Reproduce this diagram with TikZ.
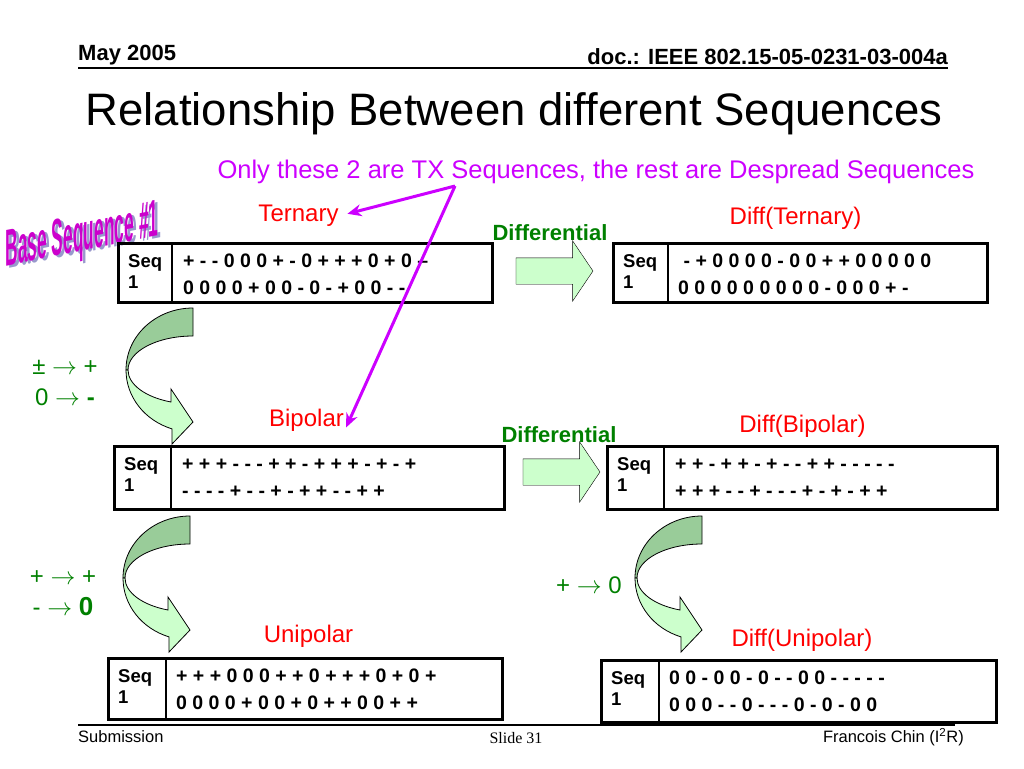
\documentclass[tikz,border=0pt]{standalone}
\usepackage{fontspec}
\setmainfont{Liberation Sans}
\newfontfamily\slidefont{Liberation Serif}
\usetikzlibrary{positioning,arrows.meta,shapes.arrows}

\definecolor{notepurple}{RGB}{204,0,255}
\definecolor{seqred}{RGB}{255,0,0}
\definecolor{mapgreen}{RGB}{0,128,0}
\definecolor{arrowlight}{RGB}{204,255,204}
\definecolor{arrowdark}{RGB}{153,204,153}
\definecolor{wordpink}{RGB}{204,0,204}
\definecolor{wordshadow}{RGB}{153,153,204}

\tikzset{
  headtext/.style={font=\bfseries\fontsize{22}{26}\selectfont, inner sep=0pt},
  seqbox/.style={draw, line width=3pt, inner sep=0pt, anchor=north west},
  cellline/.style={line width=1.2pt},
  seqhead/.style={font=\bfseries\fontsize{18.5}{21}\selectfont, align=left, anchor=base west, inner sep=0pt},
  seqbits/.style={font=\bfseries\fontsize{19.5}{26.5}\selectfont, align=left, anchor=base west, inner sep=0pt},
  seqname/.style={text=seqred, font=\fontsize{24}{28}\selectfont, inner sep=0pt},
  difftext/.style={text=mapgreen, font=\bfseries\fontsize{22}{26}\selectfont, inner sep=0pt},
  maptext/.style={text=mapgreen, font=\fontsize{24}{31}\selectfont, align=center, inner sep=0pt},
  diffarrow/.style={single arrow, draw, fill=arrowlight, inner sep=0pt, text height=13pt, text depth=13pt,
    minimum height=77pt, single arrow head extend=17pt, single arrow tip angle=112},
  curveback/.style={draw, line width=0.8pt, fill=arrowdark},
  curvefront/.style={draw, line width=0.8pt, fill=arrowlight},
  notearrow/.style={draw=notepurple, line width=3pt, -{Stealth[length=14pt,width=12pt]}},
  basetag/.style={font=\bfseries\fontsize{52}{56}\selectfont, inner sep=0pt, yslant=0.2, xscale=0.335, transform shape}
}

\begin{document}
\begin{tikzpicture}[x=1pt, y=-1pt]
\useasboundingbox (0,0) rectangle (1024,768);

% slide header and footer
\node[headtext, anchor=west] (date) at (78,55) {May 2005};
\node[headtext, anchor=east] (docid) at (948,57) {doc.: IEEE 802.15-05-0231-03-004a};
\draw[line width=2pt] (78,68) -- (948,68);
\node[font=\fontsize{45.5}{54}\selectfont, inner sep=0pt] (title) at (514,114) {Relationship Between different Sequences};
\draw[line width=1.2pt] (78,725) -- (955,725);
\node[font=\fontsize{16.5}{20}\selectfont, inner sep=0pt, anchor=west] (submission) at (78,737) {Submission};
\node[font=\slidefont\fontsize{16}{20}\selectfont, inner sep=0pt] (slideno) at (516,738) {Slide 31};
\node[font=\fontsize{16.5}{20}\selectfont, inner sep=0pt, anchor=east] (author) at (964,737) {Francois Chin (I\textsuperscript{2}R)};

\node[text=notepurple, font=\fontsize{25.5}{30}\selectfont, inner sep=0pt] (note) at (596,172) {Only these 2 are TX Sequences, the rest are Despread Sequences};

% word art
\node[basetag, text=wordshadow] at (85,240) {Base Sequence \#1};
\node[basetag, text=wordpink] (basetag) at (82,238) {Base Sequence \#1};

% curved arrows
\foreach \cx/\cy in {193/370, 190/578, 702/578} {
  \begin{scope}[shift={(\cx,\cy)}, yscale=-1]
    \draw[curveback] (0,62) arc[start angle=90, end angle=180, x radius=67, y radius=62]
      -- (-65,0) arc[start angle=180, end angle=90, x radius=65, y radius=34] -- cycle;
    \draw[curvefront] (-67,0) arc[start angle=180, end angle=251.7, x radius=67, y radius=62]
      -- (-21,-74) -- (0,-52) -- (-22,-19) -- (-22,-32)
      arc[start angle=250.2, end angle=180, x radius=65, y radius=34] -- cycle;
  \end{scope}
}
\node[maptext] (mapbip) at (65,383) {± $\rightarrow$ +\\0 $\rightarrow$ \textbf{-}};
\node[maptext] (mapuni) at (63,593) {+ $\rightarrow$ +\\- $\rightarrow$ \textbf{\fontsize{26}{31}\selectfont 0}};
\node[maptext] (mapdiff) at (589,585) {+ $\rightarrow$ 0};

% sequence tables
\node[seqbox, minimum width=374pt, minimum height=59pt] (tern) at (117,242) {};
\draw[cellline] ([xshift=55pt]tern.north west) -- ([xshift=55pt]tern.south west);
\node[seqhead] at ([xshift=11pt,yshift=-46.5pt]tern.north west) {Seq\\1};
\node[seqbits] at ([xshift=66pt,yshift=-52pt]tern.north west) {+ - - 0 0 0 + - 0 + + + 0 + 0 –\\0 0 0 0 + 0 0 - 0 - + 0 0 - -};

\node[seqbox, minimum width=374pt, minimum height=59pt] (dtern) at (612,242) {};
\draw[cellline] ([xshift=56pt]dtern.north west) -- ([xshift=56pt]dtern.south west);
\node[seqhead] at ([xshift=11pt,yshift=-46.5pt]dtern.north west) {Seq\\1};
\node[seqbits] at ([xshift=66pt,yshift=-52pt]dtern.north west) {~- + 0 0 0 0 - 0 0 + + 0 0 0 0 0\\0 0 0 0 0 0 0 0 0 - 0 0 0 + -};

\node[seqbox, minimum width=390pt, minimum height=63pt] (bip) at (113,445) {};
\draw[cellline] ([xshift=58pt]bip.north west) -- ([xshift=58pt]bip.south west);
\node[seqhead] at ([xshift=11pt,yshift=-46.5pt]bip.north west) {Seq\\1};
\node[seqbits] at ([xshift=69pt,yshift=-52pt]bip.north west) {+ + + - - - + + - + + + - + - +\\- - - - + - - + - + + - - + +};

\node[seqbox, minimum width=390pt, minimum height=63pt] (dbip) at (606,445) {};
\draw[cellline] ([xshift=58pt]dbip.north west) -- ([xshift=58pt]dbip.south west);
\node[seqhead] at ([xshift=11pt,yshift=-46.5pt]dbip.north west) {Seq\\1};
\node[seqbits] at ([xshift=69pt,yshift=-52pt]dbip.north west) {+ + - + + - + - - + + - - - - -\\+ + + - - + - - - + - + - + +};

\node[seqbox, minimum width=394pt, minimum height=61pt] (unip) at (107,657) {};
\draw[cellline] ([xshift=59pt]unip.north west) -- ([xshift=59pt]unip.south west);
\node[seqhead] at ([xshift=11pt,yshift=-46.5pt]unip.north west) {Seq\\1};
\node[seqbits] at ([xshift=69pt,yshift=-52pt]unip.north west) {+ + + 0 0 0 + + 0 + + + 0 + 0 +\\0 0 0 0 + 0 0 + 0 + + 0 0 + +};

\node[seqbox, minimum width=395pt, minimum height=62pt] (dunip) at (600,659) {};
\draw[cellline] ([xshift=59pt]dunip.north west) -- ([xshift=59pt]dunip.south west);
\node[seqhead] at ([xshift=11pt,yshift=-46.5pt]dunip.north west) {Seq\\1};
\node[seqbits] at ([xshift=69pt,yshift=-52pt]dunip.north west) {0 0 - 0 0 - 0 - - 0 0 - - - - -\\0 0 0 - - 0 - - - 0 - 0 - 0 0};

% sequence names
\node[seqname, above=15pt of tern, xshift=-7pt] (ternlbl) {Ternary};
\node[seqname, above=12pt of dtern, xshift=-5pt] (dternlbl) {Diff(Ternary)};
\node[seqname, above=13pt of bip, xshift=-3pt] (biplbl) {Bipolar};
\node[seqname, above=7pt of dbip] (dbiplbl) {Diff(Bipolar)};
\node[seqname, above=9pt of unip, xshift=3pt] (uniplbl) {Unipolar};
\node[seqname, above=7pt of dunip, xshift=3pt] (duniplbl) {Diff(Unipolar)};

% differential arrows
\node[diffarrow] (diffa) at (550,271) {};
\node[difftext, above=17pt of diffa] (diffalbl) {Differential};
\node[diffarrow] (diffb) at (557,472) {};
\node[difftext, above=16pt of diffb, xshift=2pt] (diffblbl) {Differential};

% pointers from the note
\coordinate (txpoint) at (455,186);
\draw[notearrow, shorten >=9pt] (txpoint) -- (ternlbl.east);
\draw[notearrow, shorten >=5pt] (txpoint) -- (biplbl.south east);
\end{tikzpicture}
\end{document}
